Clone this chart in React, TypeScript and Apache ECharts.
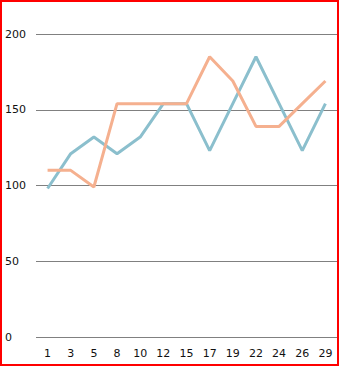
import React, { useEffect, useRef } from "react";
import * as echarts from "echarts";

const categories = ["1", "3", "5", "8", "10", "12", "15", "17", "19", "22", "24", "26", "29"];
const blueSeries = [98, 121, 132, 121, 132, 154, 154, 123, 154, 185, 154, 123, 154];
const orangeSeries = [110, 110, 99, 154, 154, 154, 154, 185, 169, 139, 139, 154, 169];
const yTicks = { min: 0, max: 200, interval: 50 };

export default function App() {
  const ref = useRef<HTMLDivElement>(null);
  useEffect(() => {
    if (!ref.current) return;
    const chart = echarts.init(ref.current, null, { renderer: "svg" });
    chart.setOption({
      animation: false,
      backgroundColor: "#ffffff",
      grid: { left: 33, right: 0, top: 32, bottom: 27, containLabel: false },
      xAxis: {
        type: "category",
        data: categories,
        boundaryGap: true,
        axisLine: { show: false },
        axisTick: { show: false },
        axisLabel: { color: "#111", fontSize: 11, fontFamily: "DejaVu Sans", margin: 11, interval: 0 },
        splitLine: { show: false },
      },
      yAxis: {
        type: "value",
        min: yTicks.min,
        max: yTicks.max,
        interval: yTicks.interval,
        axisLine: { show: false },
        axisTick: { show: false },
        axisLabel: { color: "#111", fontSize: 11, fontFamily: "DejaVu Sans", align: "left", margin: 31 },
        splitLine: { show: true, lineStyle: { color: "#808080", width: 1 } },
      },
      series: [
        {
          type: "line",
          data: blueSeries,
          symbol: "none",
          lineStyle: { color: "#8bbfcd", width: 3 },
          itemStyle: { color: "#8bbfcd" },
        },
        {
          type: "line",
          data: orangeSeries,
          symbol: "none",
          lineStyle: { color: "#f5b08f", width: 3 },
          itemStyle: { color: "#f5b08f" },
        },
      ],
    });
    return () => chart.dispose();
  }, []);
  return (
    <div
      style={{
        position: "fixed",
        left: 0,
        top: 0,
        width: 339,
        height: 366,
        boxSizing: "border-box",
        border: "2px solid #f00",
        background: "#fff",
      }}
    >
      <div ref={ref} style={{ width: 335, height: 362 }} />
    </div>
  );
}
